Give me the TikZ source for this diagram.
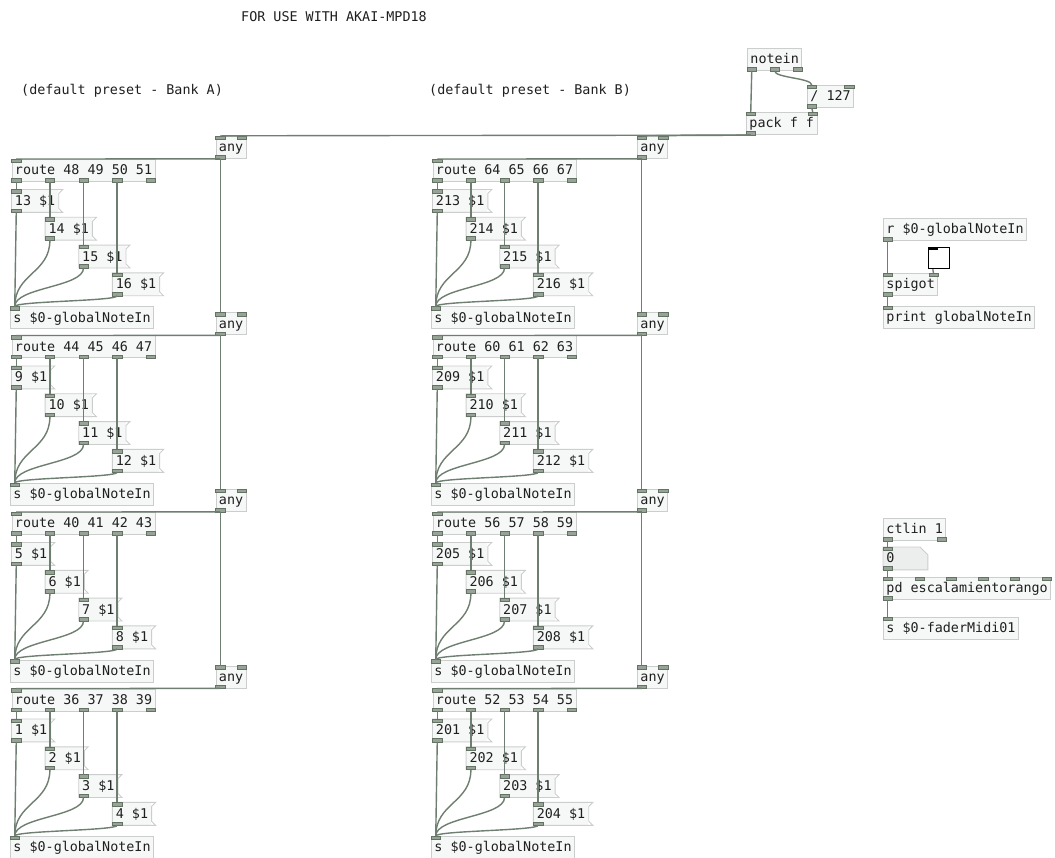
\documentclass[tikz,border=0pt]{standalone}
\usepackage{fontspec}
\setmonofont{DejaVu Sans Mono}
\usepackage{tikz}
\usetikzlibrary{positioning,calc,backgrounds}
\definecolor{pdfill}{RGB}{246,247,247}
\definecolor{pdedge}{RGB}{204,206,206}
\definecolor{pdport}{RGB}{150,163,150}
\definecolor{pdportedge}{RGB}{100,114,100}
\definecolor{pdwirecol}{RGB}{110,126,112}
\definecolor{pdnumfill}{RGB}{236,237,237}
\tikzset{
	pdobj/.style={draw=pdedge, fill=pdfill, line width=0.9pt, anchor=north west,
		font=\ttfamily\fontsize{13.4}{16}\selectfont, text=black!88,
		inner xsep=3pt, inner ysep=0pt, minimum height=22pt,
		text height=11pt, text depth=2pt},
	pdmsg/.style={pdobj, draw=none},
	pdnum/.style={pdobj, draw=none, fill=none, text width=38pt, align=left},
	pdtgl/.style={draw=black, fill=white, line width=1.3pt, anchor=north west,
		minimum size=21pt, inner sep=0pt},
	pdcomment/.style={font=\ttfamily\fontsize{13.4}{16}\selectfont, text=black!88,
		inner sep=0pt, anchor=west},
	msgline/.style={draw=pdedge, line width=0.9pt},
	port/.style={fill=pdport, draw=pdportedge, line width=0.5pt},
	wire/.style={draw=pdwirecol, line width=1.4pt}
}
%% inlets / outlets, spread over the box width
\newcommand{\pdin}[2]{%
	\foreach \pk in {1,...,#2}{
		\path let \p1=(#1.north west), \p2=(#1.north east),
		\n1={(\x2-\x1-9.5pt)*(\pk-1)/max(#2-1,1)} in
		(\x1+\n1+4.75pt,\y1) coordinate (#1-i\pk);
		\draw[port] ([xshift=-4.75pt]#1-i\pk) rectangle ++(9.5pt,-3.5pt);
	}%
}
\newcommand{\pdout}[2]{%
	\foreach \pk in {1,...,#2}{
		\path let \p1=(#1.south west), \p2=(#1.south east),
		\n1={(\x2-\x1-9.5pt)*(\pk-1)/max(#2-1,1)} in
		(\x1+\n1+4.75pt,\y1) coordinate (#1-o\pk);
		\draw[port] ([xshift=-4.75pt]#1-o\pk) rectangle ++(9.5pt,3.5pt);
	}%
}
%% message box flag outline
\newcommand{\msgedge}[1]{%
	\draw[msgline] (#1.north west) -- ([xshift=4pt]#1.north east)
	-- ([yshift=-4pt]#1.north east) -- ([yshift=4pt]#1.south east)
	-- ([xshift=4pt]#1.south east) -- (#1.south west) -- cycle;%
}
%% patch cord, outlet to inlet
\newcommand{\pdwire}[2]{%
	\path ($(#1)!.5!(#2)$) coordinate (wmid);
	\draw[wire] (#1) .. controls (#1 |- wmid) and (#2 |- wmid) .. (#2);%
}

\begin{document}
\begin{tikzpicture}[x=1pt, y=-1pt]
	
	\begin{scope}[on background layer]
		\fill[white] (0,0) rectangle (1055,858);
	\end{scope}
	\useasboundingbox (0,0) rectangle (1055,858);
	
	%% -- Comments
	\node[pdcomment] (title) at (241,17) {FOR USE WITH AKAI-MPD18};
	\node[pdcomment] (bankA) at (21,91) {(default preset - Bank A)};
	\node[pdcomment] (bankB) at (429,91) {(default preset - Bank B)};
	
	%% -- MIDI input
	\node[pdobj] (notein) at (747,48) {notein};
	\pdout{notein}{3}
	\node[pdobj] (div) at (807,85) {/ 127};
	\pdin{div}{2}\pdout{div}{1}
	\node[pdobj] (pack) at (746,112) {pack f f};
	\pdin{pack}{2}\pdout{pack}{1}
	
	%% -- Two banks, four pad rows each
	\foreach \col/\cx/\ax/\rn/\mn in {A/11.5/215.5/48/13, B/432.5/637/64/213}{
		\foreach \row in {0,...,3}{
			\pgfmathsetmacro{\ry}{159+176.5*\row}
			\pgfmathsetmacro{\ay}{\ry-23}
			\pgfmathtruncatemacro{\ra}{\rn-4*\row}
			\pgfmathtruncatemacro{\rb}{\ra+1}
			\pgfmathtruncatemacro{\rc}{\ra+2}
			\pgfmathtruncatemacro{\rd}{\ra+3}
			
			\node[pdobj] (any\col\row) at (\ax,\ay) {any};
			\pdin{any\col\row}{2}\pdout{any\col\row}{1}
			
			\node[pdobj] (route\col\row) at (\cx,\ry) {route \ra\ \rb\ \rc\ \rd};
			\pdin{route\col\row}{1}\pdout{route\col\row}{5}
			
			\node[pdobj] (send\col\row) at (\cx-1.5,\ry+147.5) {s \$0-globalNoteIn};
			\pdin{send\col\row}{1}
			
			\pdwire{any\col\row-o1}{route\col\row-i1}
			
			\foreach \k in {1,...,4}{
				\pgfmathtruncatemacro{\mv}{\mn-4*\row+\k-1}
				\pgfmathsetmacro{\my}{\ry+30.5+27.8*(\k-1)}
				\node[pdmsg, xshift=-4.75pt] (msg\col\row\k)
				at (route\col\row-o\k |- 0,\my) {\mv\ \$1};
				\msgedge{msg\col\row\k}
				\pdin{msg\col\row\k}{1}\pdout{msg\col\row\k}{1}
				\pdwire{route\col\row-o\k}{msg\col\row\k-i1}
				\pdwire{msg\col\row\k-o1}{send\col\row-i1}
			}
		}
	}
	
	%% -- any chain down each bank
	\foreach \col in {A,B}{
		\foreach \row/\nx in {0/1,1/2,2/3}{
			\pdwire{any\col\row-o1}{any\col\nx-i1}
		}
	}
	
	\pdwire{notein-o1}{pack-i1}
	\pdwire{notein-o2}{div-i1}
	\pdwire{div-o1}{pack-i2}
	\pdwire{pack-o1}{anyA0-i1}
	\pdwire{pack-o1}{anyB0-i1}
	
	%% -- Monitor
	\node[pdobj] (recv) at (883,218) {r \$0-globalNoteIn};
	\pdout{recv}{1}
	\node[pdtgl] (tgl) at (928,247) {};
	\fill[black] (tgl.north west) rectangle ++(9.5pt,-3.5pt);
	\coordinate (tgl-o1) at ([xshift=4.75pt]tgl.south west);
	\node[pdobj] (spigot) at (883,273) {spigot};
	\pdin{spigot}{2}\pdout{spigot}{1}
	\node[pdobj] (print) at (883,306) {print globalNoteIn};
	\pdin{print}{1}
	
	\pdwire{recv-o1}{spigot-i1}
	\pdwire{tgl-o1}{spigot-i2}
	\pdwire{spigot-o1}{print-i1}
	
	%% -- Fader
	\node[pdobj] (ctlin) at (883,518) {ctlin 1};
	\pdout{ctlin}{2}
	\node[pdnum] (num) at (883,547) {0};
	\begin{scope}[on background layer]
		\draw[msgline, fill=pdnumfill] (num.north west) -- ([xshift=-8pt]num.north east)
		-- ([yshift=-8pt]num.north east) -- (num.south east) -- (num.south west) -- cycle;
	\end{scope}
	\pdin{num}{1}\pdout{num}{1}
	\node[pdobj] (pdsub) at (883,577) {pd escalamientorango};
	\pdin{pdsub}{6}\pdout{pdsub}{1}
	\node[pdobj] (fader) at (883,617) {s \$0-faderMidi01};
	\pdin{fader}{1}
	
	\pdwire{ctlin-o1}{num-i1}
	\pdwire{num-o1}{pdsub-i1}
	\pdwire{pdsub-o1}{fader-i1}
	
\end{tikzpicture}
\end{document}
